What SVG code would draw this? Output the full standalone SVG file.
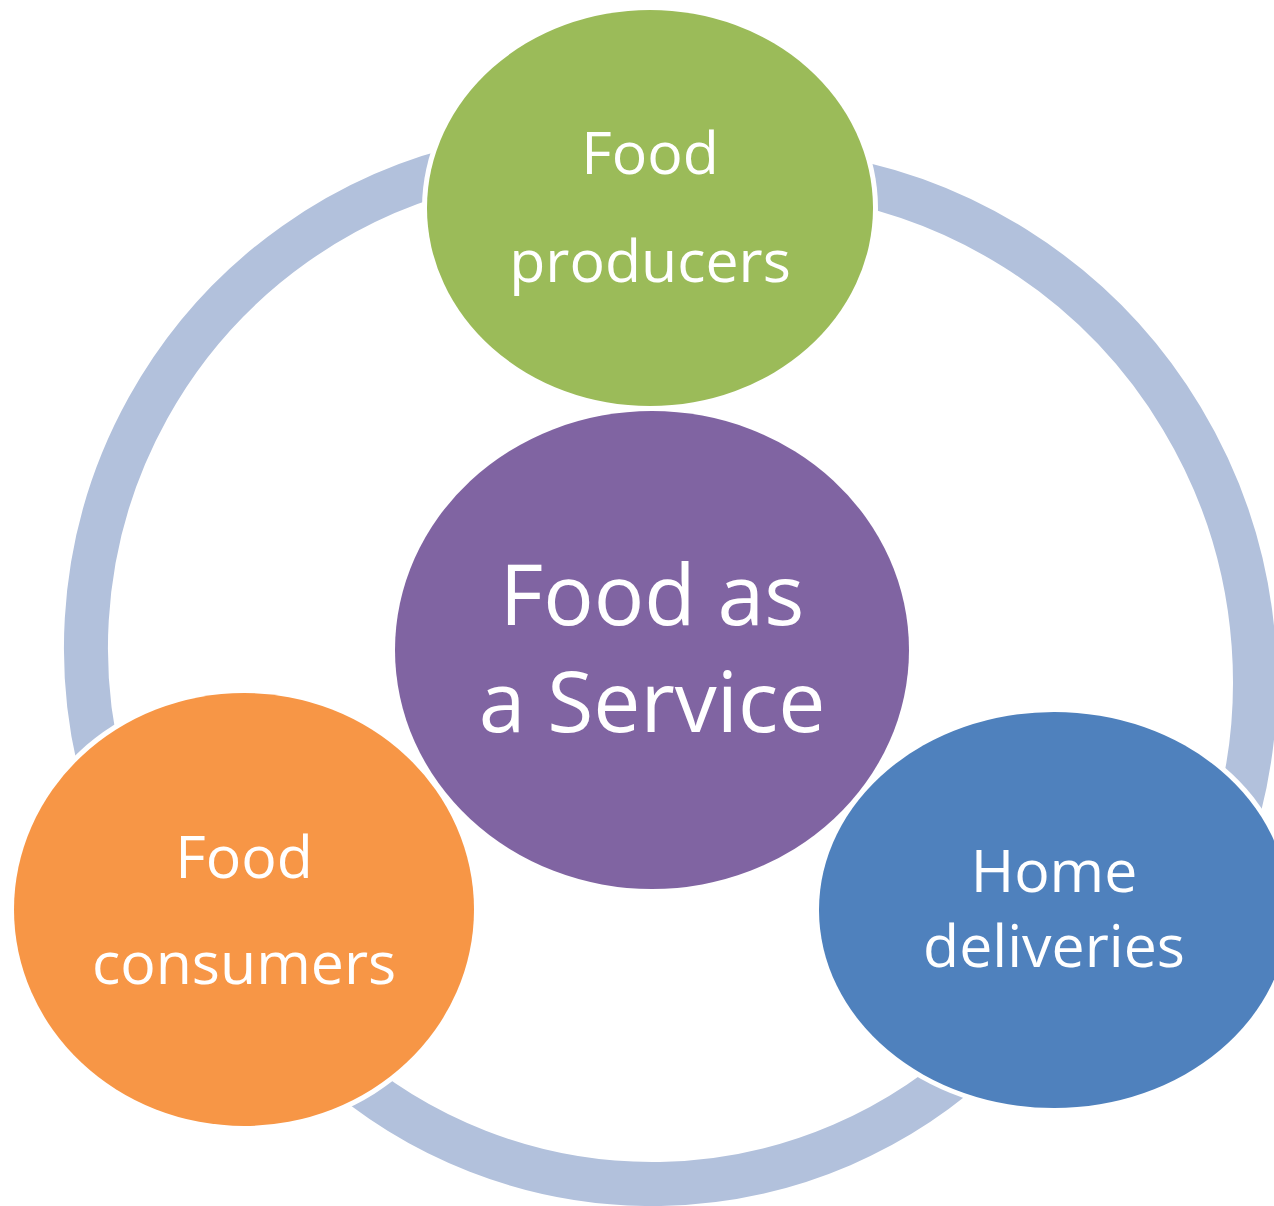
<svg xmlns="http://www.w3.org/2000/svg" width="1274" height="1206" viewBox="0 0 1274 1206">
  <style>
    .arc { fill: none; stroke: #B2C1DC; stroke-width: 44; stroke-linecap: butt; }
    .gap { fill: #FFFFFF; stroke: none; }
    .lbl { fill: #FFFFFF; font-family: "Open Sans", "Noto Sans", "Liberation Sans", sans-serif; text-anchor: middle; font-size: 59px; }
    .big { font-size: 84px; }
  </style>
  <rect x="0" y="0" width="1274" height="1206" fill="#FFFFFF"/>
  <g id="connectors">
    <path class="arc" d="M478.1,163.8 A495,495 0 0 0 115.8,817.3"/>
    <path class="arc" d="M814.3,175.0 A512,512 0 0 1 1224.1,857.1"/>
    <path class="arc" d="M330.8,1060.7 A480,480 0 0 0 985.5,1049.3"/>
  </g>
  <g id="gaps">
    <ellipse class="gap" cx="650" cy="208" rx="228" ry="203"/>
    <ellipse class="gap" cx="244" cy="909.5" rx="235" ry="221.5"/>
    <ellipse class="gap" cx="1054" cy="910" rx="240" ry="203"/>
  </g>
  <g id="node-center">
    <ellipse cx="652" cy="650" rx="257" ry="239" fill="#8064A2"/>
    <text class="lbl big" x="652" y="625">Food as</text>
    <text class="lbl big" x="652" y="732">a Service</text>
  </g>
  <g id="node-producers">
    <ellipse cx="650" cy="208" rx="223" ry="198" fill="#9BBB59"/>
    <text class="lbl" x="650" y="174">Food</text>
    <text class="lbl" x="650" y="282">producers</text>
  </g>
  <g id="node-consumers">
    <ellipse cx="244" cy="909.5" rx="230" ry="216.5" fill="#F79646"/>
    <text class="lbl" x="244" y="878">Food</text>
    <text class="lbl" x="244" y="984">consumers</text>
  </g>
  <g id="node-deliveries">
    <ellipse cx="1054" cy="910" rx="235" ry="198" fill="#4F81BD"/>
    <text class="lbl" x="1054" y="892">Home</text>
    <text class="lbl" x="1054" y="967">deliveries</text>
  </g>
</svg>
